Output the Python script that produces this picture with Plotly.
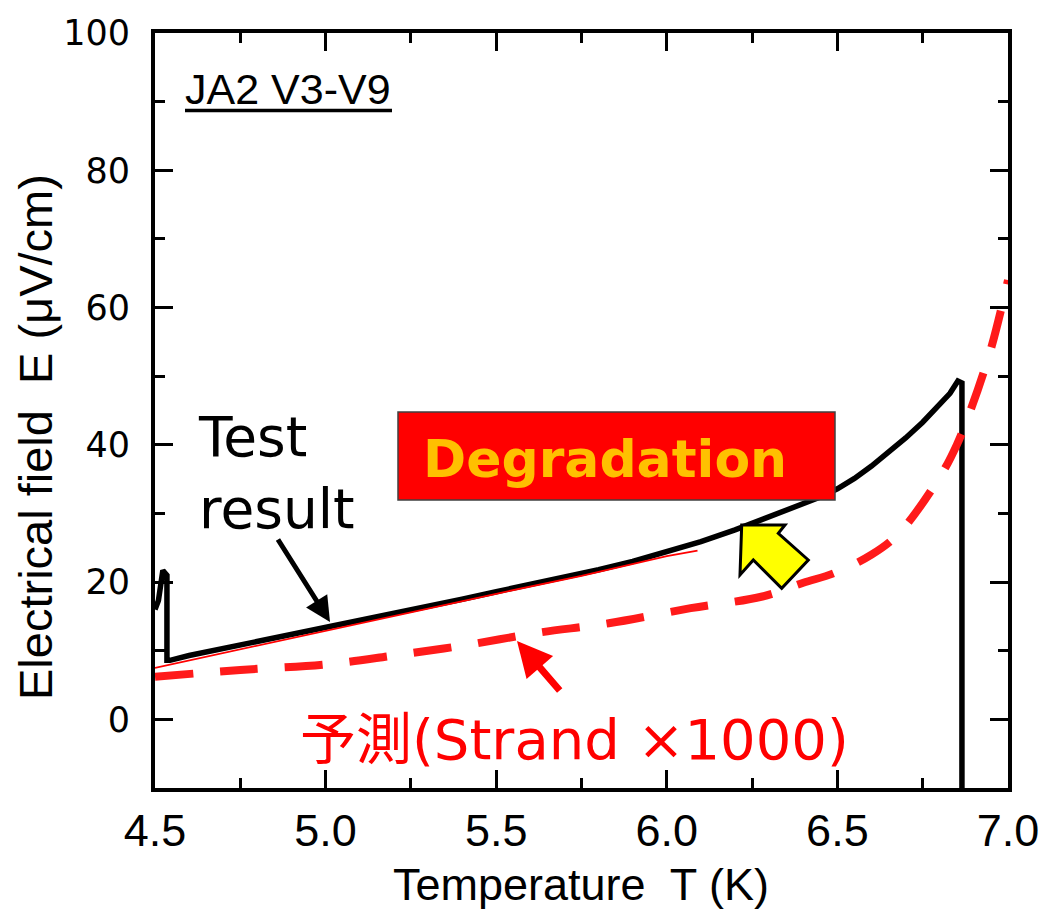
import plotly.graph_objects as go

# ---- data ----
test_T = [4.500, 4.510, 4.523, 4.530, 4.535, 4.535, 4.544, 4.60, 4.70, 4.80, 4.90, 5.00, 5.10,
          5.20, 5.30, 5.40, 5.50, 5.60, 5.70, 5.80, 5.90, 6.00, 6.10, 6.20, 6.30, 6.40,
          6.45, 6.50, 6.55, 6.60, 6.65, 6.70, 6.75, 6.80, 6.83, 6.853, 6.865, 6.865]
test_E = [16.0, 17.3, 21.7, 21.2, 21.0, 8.6, 8.6, 9.3, 10.3, 11.4, 12.4, 13.4, 14.4,
          15.4, 16.4, 17.5, 18.6, 19.6, 20.6, 21.8, 23.0, 24.4, 25.9, 27.6, 29.5, 31.4,
          32.4, 33.6, 35.1, 36.9, 38.9, 41.0, 43.3, 45.8, 47.5, 49.3, 49.0, -15.0]

fit_T = [4.50, 4.75, 5.00, 5.25, 5.50, 5.75, 6.00, 6.09]
fit_E = [7.5, 10.2, 13.0, 15.7, 18.3, 20.9, 23.8, 24.6]

pred_T = [4.50, 4.75, 5.00, 5.20, 5.41, 5.62, 5.83, 6.07, 6.28, 6.40, 6.49, 6.60, 6.68,
          6.80, 6.85, 6.89, 6.95, 7.00]
pred_E = [6.2, 7.2, 8.0, 9.3, 10.8, 12.6, 14.0, 16.2, 17.9, 19.9, 21.3, 24.0, 27.1,
          35.3, 40.0, 45.0, 54.0, 64.0]

x_ticks = [4.5, 5.0, 5.5, 6.0, 6.5, 7.0]
y_ticks = [0, 20, 40, 60, 80, 100]

W, H = 1041, 920
L, R, T, B = 155, 33, 33, 132
PW, PH = W - L - R, H - T - B


def pxx(x):
    return (x - L) / PW


def pyy(y):
    return (H - B - y) / PH


NARROW = "Liberation Sans Narrow, Arial Narrow, Liberation Sans, Arial, sans-serif"
VERD = "DejaVu Sans, Verdana, sans-serif"

fig = go.Figure()
fig.add_trace(go.Scatter(x=test_T, y=test_E, mode="lines",
                         line=dict(color="black", width=5.5), showlegend=False))
fig.add_trace(go.Scatter(x=fit_T, y=fit_E, mode="lines",
                         line=dict(color="#ff0000", width=1.8), showlegend=False))
fig.add_trace(go.Scatter(x=pred_T, y=pred_E, mode="lines", line_shape="spline",
                         line=dict(color="#ff1a1a", width=8, dash="38px,27px"), showlegend=False))

axis_common = dict(showline=True, linewidth=4, linecolor="black", mirror="ticks",
                   ticks="inside", ticklen=18, tickwidth=3, tickcolor="black",
                   showgrid=False, zeroline=False, automargin=False)

fig.update_xaxes(range=[4.5, 7.0], tickvals=x_ticks,
                 ticktext=[f"{v:.1f}" for v in x_ticks],
                 tickfont=dict(family=NARROW, size=45, color="black"),
                 minor=dict(dtick=0.25, ticks="inside", ticklen=10, tickwidth=3, tickcolor="black"),
                 **axis_common)
fig.update_yaxes(range=[-10, 100], tickvals=y_ticks,
                 tickfont=dict(family=VERD, size=35, color="black"),
                 minor=dict(dtick=10, ticks="inside", ticklen=10, tickwidth=3, tickcolor="black"),
                 ticklabelstandoff=14,
                 **axis_common)

shapes = []
# Degradation box
shapes.append(dict(type="rect", xref="paper", yref="paper",
                   x0=pxx(398), x1=pxx(835), y0=pyy(500), y1=pyy(412),
                   fillcolor="#ff0000", line=dict(color="#404040", width=1.5), layer="above"))
# underline of JA2 V3-V9
shapes.append(dict(type="line", xref="paper", yref="paper",
                   x0=pxx(185), x1=pxx(392), y0=pyy(110.5), y1=pyy(110.5),
                   line=dict(color="black", width=3.5), layer="above"))
# yellow block arrow
pts = [(741.7, 525), (785, 525), (778.3, 533.3), (808.3, 560), (781.7, 588.3),
       (753.3, 560), (740, 575)]
path = "M " + " L ".join(f"{pxx(a):.5f},{pyy(b):.5f}" for a, b in pts) + " Z"
shapes.append(dict(type="path", xref="paper", yref="paper", path=path,
                   fillcolor="#ffff00", line=dict(color="black", width=3), layer="above"))

annotations = [
    dict(text="JA2 V3-V9", xref="paper", yref="paper", x=pxx(183), y=pyy(89),
         xanchor="left", yanchor="middle", showarrow=False,
         font=dict(family="Liberation Sans, Arial, sans-serif", size=43, color="black")),
    dict(text="Test<br>result", xref="paper", yref="paper", x=pxx(196), y=pyy(473),
         xanchor="left", yanchor="middle", align="left", showarrow=False,
         font=dict(family=VERD, size=55, color="black")),
    dict(text="<b>Degradation</b>", xref="paper", yref="paper", x=pxx(605), y=pyy(459),
         xanchor="center", yanchor="middle", showarrow=False,
         font=dict(family=VERD, size=52, color="#ffc000")),
    dict(text="予測(Strand ×1000)", xref="paper", yref="paper", x=pxx(574), y=pyy(739),
         xanchor="center", yanchor="middle", showarrow=False,
         font=dict(family="DejaVu Sans, Noto Sans CJK JP, sans-serif", size=56, color="#ff0000")),
    # arrows
    dict(text="", xref="paper", yref="paper", x=pxx(330), y=pyy(622), ax=-53, ay=-84,
         axref="pixel", ayref="pixel", showarrow=True, arrowhead=2, arrowsize=1,
         arrowwidth=5, arrowcolor="black", standoff=0),
    dict(text="", xref="paper", yref="paper", x=pxx(517), y=pyy(641), ax=44, ay=51,
         axref="pixel", ayref="pixel", showarrow=True, arrowhead=2, arrowsize=1,
         arrowwidth=7, arrowcolor="#ff0000", standoff=0),
    # axis titles
    dict(text="Temperature  T (K)", xref="paper", yref="paper", x=pxx(581), y=pyy(884),
         xanchor="center", yanchor="middle", showarrow=False,
         font=dict(family=NARROW, size=45, color="black")),
    dict(text="Electrical field  E (μV/cm)", xref="paper", yref="paper", x=pxx(35), y=pyy(437),
         xanchor="center", yanchor="middle", showarrow=False, textangle=-90,
         font=dict(family=NARROW, size=47, color="black")),
]

fig.update_layout(width=W, height=H, margin=dict(l=L, r=R, t=T, b=B, pad=0, autoexpand=False),
                  paper_bgcolor="white", plot_bgcolor="white",
                  shapes=shapes, annotations=annotations, showlegend=False)

fig.write_html("out.html")
